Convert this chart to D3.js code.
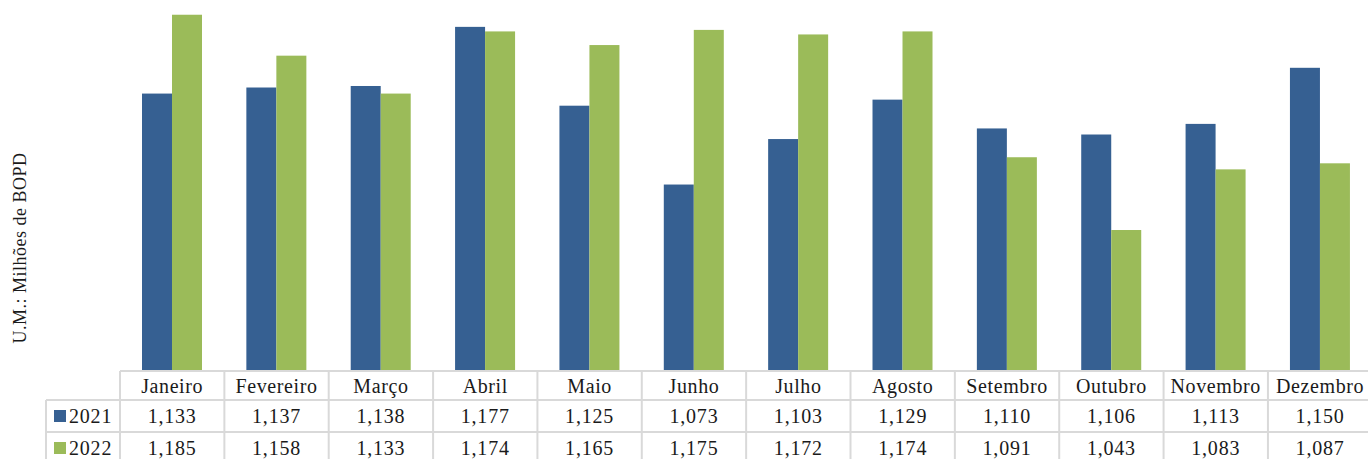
<!DOCTYPE html>
<html>
<head>
<meta charset="utf-8">
<script src="https://cdn.jsdelivr.net/npm/d3@7"></script>
<style>
  html, body { margin: 0; padding: 0; background: #fff; overflow: hidden; }
  svg { display: block; }
  text { font-family: "Liberation Serif", "Times New Roman", serif; fill: #1a1a1a; }
</style>
</head>
<body>
<svg id="chart" width="1368" height="459"></svg>
<script>
// Monthly oil production, millions of barrels per day
const months = ["Janeiro", "Fevereiro", "Março", "Abril", "Maio", "Junho",
                "Julho", "Agosto", "Setembro", "Outubro", "Novembro", "Dezembro"];
const seriesNames = ["2021", "2022"];
const values2021 = [1.133, 1.137, 1.138, 1.177, 1.125, 1.073, 1.103, 1.129, 1.110, 1.106, 1.113, 1.150];
const values2022 = [1.185, 1.158, 1.133, 1.174, 1.165, 1.175, 1.172, 1.174, 1.091, 1.043, 1.083, 1.087];
const colors = ["#366092", "#9bbb59"];
const yDomain = [0.95, 1.2];
const yLabel = "U.M.: Milhões de BOPD";

const series = [values2021, values2022];
const fmt = v => d3.format(",.0f")(v * 1000);

const svg = d3.select("#chart");
const baseY = 371;          // bottom of plot area / top of data table
const tableLeft = 120;
const tableRight = 1372.3;  // last column runs slightly past the canvas edge
const legendLeft = 46;
const rowY = [371, 400, 432, 464];
const gridColor = "#d9d9d9";

const x = d3.scaleBand().domain(months).range([tableLeft, tableRight]).paddingInner(0).paddingOuter(0);
const xSub = d3.scaleBand().domain(seriesNames).range([22, 82]).padding(0);
const y = d3.scaleLinear().domain(yDomain).range([baseY, baseY - 250 * 1.516]);

// Bars
const groups = svg.append("g").selectAll("g")
  .data(months)
  .join("g")
  .attr("transform", d => `translate(${x(d)},0)`);

groups.selectAll("rect")
  .data((m, i) => seriesNames.map((s, k) => ({ s, k, v: series[k][i] })))
  .join("rect")
  .attr("x", d => xSub(d.s))
  .attr("width", xSub.bandwidth())
  .attr("y", d => y(d.v))
  .attr("height", d => baseY - y(d.v))
  .attr("fill", d => colors[d.k]);

// Data table grid
const grid = svg.append("g").attr("stroke", gridColor).attr("stroke-width", 2).attr("fill", "none");
grid.append("line").attr("x1", tableLeft).attr("x2", tableRight).attr("y1", rowY[0]).attr("y2", rowY[0]);
[rowY[1], rowY[2]].forEach(yy =>
  grid.append("line").attr("x1", legendLeft).attr("x2", tableRight).attr("y1", yy).attr("y2", yy));
grid.append("line").attr("x1", legendLeft).attr("x2", legendLeft).attr("y1", rowY[1]).attr("y2", rowY[3]);
months.forEach(m =>
  grid.append("line").attr("x1", x(m)).attr("x2", x(m)).attr("y1", rowY[0]).attr("y2", rowY[3]));
grid.append("line").attr("x1", tableRight).attr("x2", tableRight).attr("y1", rowY[0]).attr("y2", rowY[3]);

// Header row: month names
svg.append("g").selectAll("text")
  .data(months)
  .join("text")
  .attr("x", d => x(d) + x.bandwidth() / 2)
  .attr("y", 393)
  .attr("text-anchor", "middle")
  .attr("font-size", 20)
  .attr("letter-spacing", 0.6)
  .text(d => d);

// Value rows with legend keys
const rowBase = [423, 455];
series.forEach((vals, k) => {
  const g = svg.append("g");
  g.append("rect")
    .attr("x", 54).attr("y", rowBase[k] - 13)
    .attr("width", 12).attr("height", 12)
    .attr("fill", colors[k]);
  g.append("text")
    .attr("x", 69).attr("y", rowBase[k])
    .attr("font-size", 20)
    .attr("letter-spacing", 0.8)
    .text(seriesNames[k]);
  g.selectAll("text.val")
    .data(vals)
    .join("text")
    .attr("class", "val")
    .attr("x", (d, i) => x(months[i]) + x.bandwidth() / 2)
    .attr("y", rowBase[k])
    .attr("text-anchor", "middle")
    .attr("font-size", 20)
    .attr("letter-spacing", 0.8)
    .text(d => fmt(d));
});

// Axis title
svg.append("text")
  .attr("transform", "translate(26,248) rotate(-90)")
  .attr("text-anchor", "middle")
  .attr("font-size", 18)
  .attr("letter-spacing", 0.5)
  .text(yLabel);
</script>
</body>
</html>
